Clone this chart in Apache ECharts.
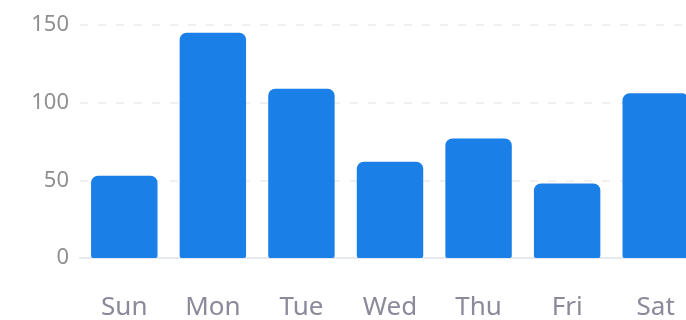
<!DOCTYPE html>
<html>
<head>
<meta charset="utf-8">
<script src="https://cdn.jsdelivr.net/npm/echarts@6/dist/echarts.min.js"></script>
<style>html,body{margin:0;padding:0;background:#fff}#c{width:686px;height:320px}</style>
</head>
<body>
<div id="c"></div>
<script>
const categories = ['Sun', 'Mon', 'Tue', 'Wed', 'Thu', 'Fri', 'Sat'];
const values = [53, 145, 109, 62, 77, 48, 106];
const yTicks = [0, 50, 100, 150];

const chart = echarts.init(document.getElementById('c'), null, {renderer: 'canvas'});
chart.setOption({
  animation: false,
  grid: {left: 80, width: 620, top: 25, height: 233, containLabel: false, outerBoundsMode: 'none'},
  xAxis: {
    type: 'category',
    data: categories,
    axisTick: {show: false},
    axisLine: {lineStyle: {color: '#e6e9f0', width: 2}},
    axisLabel: {color: '#8a8a9a', fontSize: 26, fontFamily: 'Noto Sans', margin: 37}
  },
  yAxis: {
    type: 'value',
    min: yTicks[0],
    max: yTicks[yTicks.length - 1],
    interval: 50,
    axisLabel: {color: '#8f8f8f', fontSize: 22, fontFamily: 'Noto Sans', margin: 11},
    splitLine: {lineStyle: {color: '#ebebeb', type: [8, 10], width: 1.5}}
  },
  series: [{
    type: 'bar',
    data: values,
    barCategoryGap: '25%',
    itemStyle: {color: '#1b7fe8', borderRadius: [7, 7, 2, 2]}
  }]
});
</script>
</body>
</html>
